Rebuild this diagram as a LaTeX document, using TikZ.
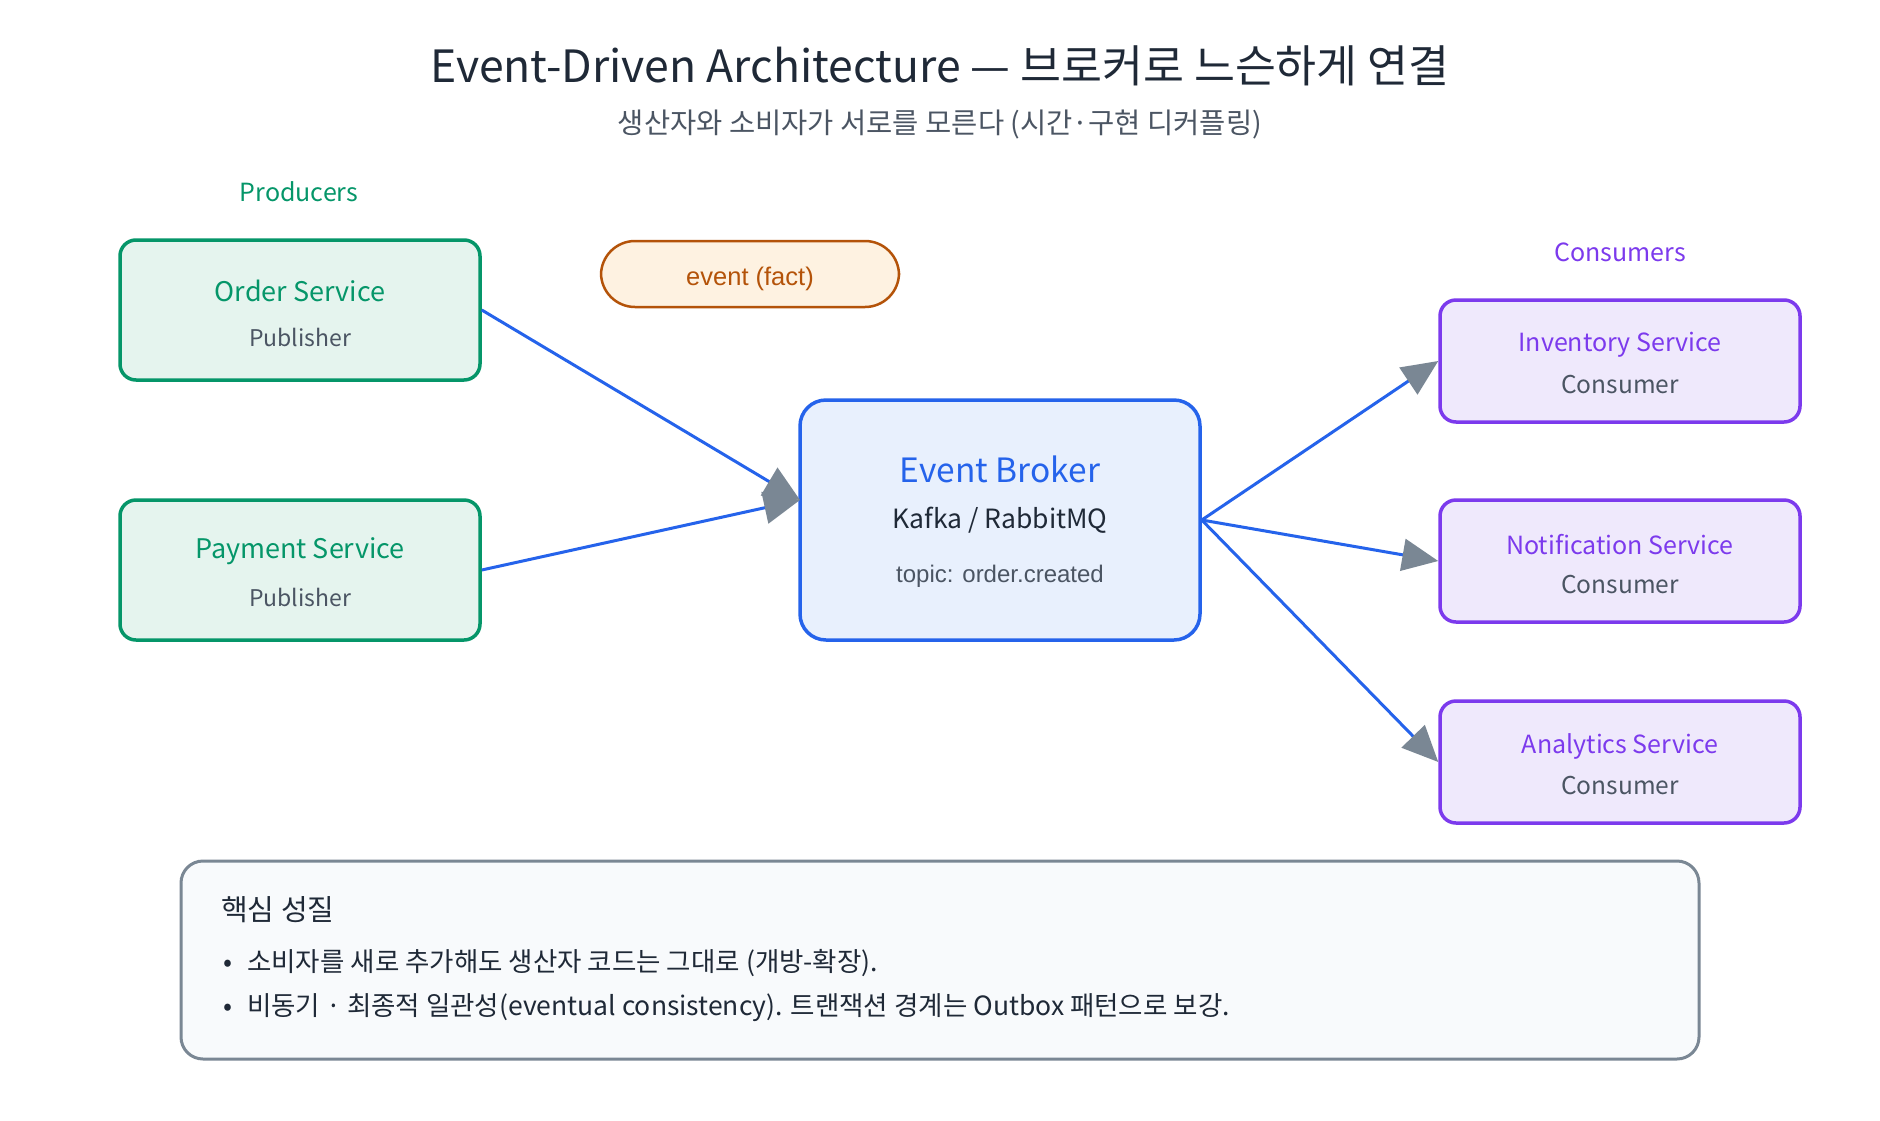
\documentclass[tikz,border=0pt]{standalone}
\usepackage{fontspec}
\setmainfont{Noto Sans CJK KR}
\newfontfamily\arialfont{Liberation Sans}
\usetikzlibrary{arrows.meta}

\definecolor{ink}{HTML}{1F2937}
\definecolor{subink}{HTML}{4B5563}
\definecolor{prodgreen}{HTML}{059669}
\definecolor{prodfill}{HTML}{E5F4EE}
\definecolor{conspurple}{HTML}{7C3AED}
\definecolor{consfill}{HTML}{EFE9FC}
\definecolor{brokerblue}{HTML}{2563EB}
\definecolor{brokerfill}{HTML}{E8F0FD}
\definecolor{factorange}{HTML}{B45309}
\definecolor{factfill}{HTML}{FEF2E1}
\definecolor{slate}{HTML}{7A8794}
\definecolor{notefill}{HTML}{F8FAFC}

\tikzset{
  svcbox/.style={draw, rounded corners=16pt, line width=3.5pt,
    minimum width=360pt, inner sep=0pt},
  prodbox/.style={svcbox, draw=prodgreen, fill=prodfill, minimum height=140pt},
  consbox/.style={svcbox, draw=conspurple, fill=consfill, minimum height=122pt},
  prodtitle/.style={text=prodgreen, inner sep=0pt, yshift=19pt,
    font=\fontsize{27pt}{31pt}\selectfont},
  constitle/.style={text=conspurple, inner sep=0pt, yshift=16pt,
    font=\fontsize{25pt}{29pt}\selectfont},
  prodrole/.style={text=subink, inner sep=0pt, yshift=-27pt,
    font=\fontsize{23pt}{27pt}\selectfont},
  consrole/.style={text=subink, inner sep=0pt, yshift=-24pt,
    font=\fontsize{24.5pt}{28pt}\selectfont},
  grouplabel/.style={inner sep=0pt, font=\fontsize{25pt}{29pt}\selectfont},
  flow/.style={line width=3pt, draw=brokerblue,
    -{Triangle[length=36pt,width=32pt,color=slate]}},
  notetext/.style={text=ink, inner sep=0pt, anchor=west,
    font=\fontsize{26.5pt}{31pt}\selectfont},
}

% name, x, y, title, role, kind
\newcommand{\service}[6]{
    \node[#6box] (#1) at (#2,#3) {};
    \node[#6title] (#1-title) at (#2,#3) {#4};
    \node[#6role] (#1-role) at (#2,#3) {#5};
}

\begin{document}
\begin{tikzpicture}[x=1pt,y=-1pt]
  \useasboundingbox[fill=white] (0,0) rectangle (1880,1120);

  \node[text=ink, font=\fontsize{44.5pt}{50pt}\selectfont] (title) at (940,66)
    {Event-Driven Architecture — 브로커로 느슨하게 연결};
  \node[text=subink, font=\fontsize{28.5pt}{33pt}\selectfont] (subtitle) at (940,125)
    {생산자와 소비자가 서로를 모른다 (시간·구현 디커플링)};

  % producers
  \node[grouplabel, text=prodgreen] (producers) at (299,192) {Producers};
  \service{order}{300}{310}{Order Service}{Publisher}{prod}
  \service{payment}{300}{570}{Payment Service}{Publisher}{prod}

  \node[draw=factorange, fill=factfill, line width=2.5pt, rounded corners=34pt,
    minimum width=298pt, minimum height=66pt, text=factorange,
    text height=22pt, text depth=0pt,
    font=\arialfont\fontsize{25.5pt}{30pt}\selectfont] (fact) at (750,274) {event (fact)};

  % broker
  \node[draw=brokerblue, fill=brokerfill, line width=3.5pt,
    rounded corners=26pt, minimum width=400pt, minimum height=240pt] (broker) at (1000,520) {};
  \node[text=brokerblue, inner sep=0pt, font=\fontsize{33.5pt}{38pt}\selectfont]
    (broker-title) at (1000,469) {Event Broker};
  \node[text=ink, inner sep=0pt, font=\fontsize{26.5pt}{31pt}\selectfont]
    (broker-kind) at (1000,520) {Kafka / RabbitMQ};
  \node[text=subink, inner sep=0pt, font=\arialfont\fontsize{24pt}{28pt}\selectfont]
    (broker-topic) at (1000,576) {topic: order.created};
  \coordinate (broker-in) at (800,500);

  % consumers
  \node[grouplabel, text=conspurple] (consumers) at (1620,252) {Consumers};
  \service{inventory}{1620}{361}{Inventory Service}{Consumer}{cons}
  \service{notification}{1620}{561}{Notification Service}{Consumer}{cons}
  \service{analytics}{1620}{762}{Analytics Service}{Consumer}{cons}

  \draw[flow] (order.east) -- (broker-in);
  \draw[flow] (payment.east) -- (broker-in);
  \draw[flow] (broker.east) -- (inventory.west);
  \draw[flow] (broker.east) -- (notification.west);
  \draw[flow] (broker.east) -- (analytics.west);

  % note
  \node[draw=slate, fill=notefill, line width=3pt, rounded corners=22pt,
    minimum width=1518pt, minimum height=198pt] (note) at (940,960) {};
  \node[notetext, font=\fontsize{29pt}{34pt}\selectfont] (note-head) at (221,910) {핵심 성질};
  \node[notetext] (note-a) at (223,963) {•\hspace{15pt}소비자를 새로 추가해도 생산자 코드는 그대로 (개방-확장).};
  \node[notetext] (note-b) at (223,1008) {•\hspace{15pt}비동기 · 최종적 일관성(eventual consistency). 트랜잭션 경계는 Outbox 패턴으로 보강.};

\end{tikzpicture}
\end{document}
